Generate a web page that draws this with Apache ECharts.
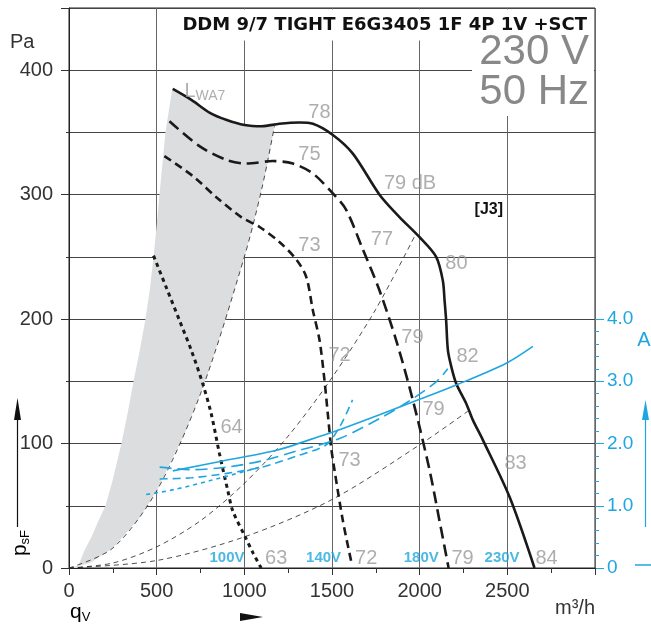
<!DOCTYPE html>
<html>
<head>
<meta charset="utf-8">
<script src="https://cdn.jsdelivr.net/npm/echarts@6/dist/echarts.min.js"></script>
<style>
html,body{margin:0;padding:0;background:#fff}
#main{width:651px;height:629px}
</style>
</head>
<body>
<div id="main"></div>
<script>
// static pressure p_sF (Pa) against air flow q_V (m3/h), one curve per voltage
var fan230 = [[592,385],[700,376],[801,366],[900,360],[1001,356],[1100,355],[1200,357],[1315,358],[1391,357],[1505,348],[1619,333],[1771,300],[1885,282],[1998,266],[2094,250],[2132,231],[2142,215],[2151,199],[2161,175],[2180,162],[2209,148],[2266,132],[2303,119],[2360,103],[2513,57],[2655,0]];
var fan180 = [[573,359],[744,339],[897,328],[1011,325],[1162,327],[1277,325],[1391,317],[1505,301],[1580,288],[1676,256],[1771,223],[1866,183],[1961,135],[2056,79],[2113,38],[2165,0]];
var fan140 = [[544,331],[706,315],[840,298],[982,282],[1087,274],[1200,262],[1296,248],[1353,234],[1391,207],[1429,183],[1457,151],[1476,124],[1495,97],[1514,79],[1562,38],[1610,5]];
var fan100 = [[482,251],[556,225],[630,199],[700,174],[763,148],[811,124],[858,92],[906,62],[934,46],[1005,25],[1050,12],[1096,0]];

// system curves (thin dashed)
var sys1 = [[0,0],[250,16],[500,62],[750,140],[1000,250],[1100,305],[1172,355]];
var sys2 = [[0,0],[250,4],[500,17],[750,38],[1000,68],[1250,106],[1500,153],[1750,208],[1980,269]];
var sys3 = [[0,0],[500,6],[1000,25],[1500,55],[2000,99],[2275,126]];

// shaded L_WA7 zone
var zoneLeft = [[48,0],[88,14],[128,25],[168,38],[208,50],[248,70],[299,100],[335,125],[368,150],[404,175],[436,200],[462,225],[482,250],[500,275],[516,300],[533,325],[550,350],[570,368],[590,386]];
var zoneTop = [[650,381],[700,376],[750,370],[801,366],[850,362],[900,360],[950,357],[1001,356],[1050,355],[1100,355],[1172,355]];
var zoneRight = [[1140,330],[1100,305],[1050,276],[1000,250],[900,203],[800,160],[750,140],[650,105],[500,62],[400,40],[250,16],[120,4],[0,0]];

// current (A) against air flow
var amp230 = [[592,1.56],[877,1.72],[1182,1.89],[1467,2.15],[1543,2.22],[1771,2.46],[2000,2.71],[2209,2.94],[2494,3.29],[2646,3.56]];
var amp180 = [[517,1.62],[700,1.58],[900,1.62],[1100,1.72],[1300,1.88],[1543,2.08],[1790,2.43],[1923,2.65],[2094,2.99],[2160,3.2]];
var amp140 = [[517,1.43],[700,1.45],[900,1.52],[1100,1.62],[1300,1.8],[1467,1.98],[1550,2.3],[1617,2.7]];
var amp100 = [[440,1.18],[600,1.26],[800,1.4],[1000,1.55],[1100,1.63]];

// sound power labels [q, p, text]
var dbLabels = [[1428,366,'78'],[1371,332,'75'],[1371,259,'73'],[927,113,'64'],[1182,8,'63'],[1945,309,'79 dB'],[1785,264,'77'],[2210,245,'80'],[1543,171,'72'],[1959,185,'79'],[2273,170,'82'],[2079,127,'79'],[1600,86,'73'],[2547,84,'83'],[1695,8,'72'],[2245,8,'79'],[2724,8,'84']];
var voltLabels = [[901,8,'100V'],[1452,8,'140V'],[2009,8,'180V'],[2470,8,'230V']];

var blue = '#1ea6e0';
var grayTxt = '#9a9a9a';
var font = 'Liberation Sans';

var zonePoly = zoneLeft.concat(zoneTop, zoneRight);

var myChart = echarts.init(document.getElementById('main'));

function fanLine(data, dash, width) {
    return {
        type: 'line', data: data, xAxisIndex: 0, yAxisIndex: 0,
        smooth: 0.3, symbol: 'none', silent: true, z: 5,
        lineStyle: {color: '#1a1a1a', width: width || 2.6, type: dash}
    };
}
function sysLine(data) {
    return {
        type: 'line', data: data, xAxisIndex: 0, yAxisIndex: 0,
        smooth: 0.3, symbol: 'none', silent: true, z: 4,
        lineStyle: {color: '#222', width: 0.8, type: [5, 4]}
    };
}
function ampLine(data, dash) {
    return {
        type: 'line', data: data, xAxisIndex: 1, yAxisIndex: 1,
        smooth: 0.3, symbol: 'none', silent: true, z: 6,
        lineStyle: {color: blue, width: 1.6, type: dash}
    };
}

var option = {
    animation: false,
    grid: [
        {left: 69, right: 56, top: 8, bottom: 61, show: true, borderColor: '#222', borderWidth: 1},
        {left: 69, right: 56, top: 319, bottom: 61}
    ],
    xAxis: [
        {
            type: 'value', gridIndex: 0, min: 0, max: 3000, interval: 500,
            axisLine: {show: true, lineStyle: {color: '#222'}},
            axisTick: {show: true, length: 7, lineStyle: {color: '#333'}},
            minorTick: {show: true, splitNumber: 2, length: 5, lineStyle: {color: '#333'}},
            axisLabel: {color: '#333', fontSize: 20, fontFamily: font, margin: 13, showMaxLabel: false,
                formatter: function (v) { return String(v); }},
            splitLine: {show: true, lineStyle: {color: '#666', width: 1}}
        },
        {type: 'value', gridIndex: 1, min: 0, max: 3000, show: false}
    ],
    yAxis: [
        {
            type: 'value', gridIndex: 0, min: 0, max: 450, interval: 100,
            axisLine: {show: true, lineStyle: {color: '#222'}},
            axisTick: {show: true, length: 8, lineStyle: {color: '#333'}},
            minorTick: {show: true, splitNumber: 2, length: 3, lineStyle: {color: '#333'}},
            axisLabel: {color: '#333', fontSize: 20, fontFamily: font, margin: 16, showMaxLabel: false},
            splitLine: {show: true, lineStyle: {color: '#444', width: 1}},
            minorSplitLine: {show: true, lineStyle: {color: '#444', width: 1}}
        },
        {
            type: 'value', gridIndex: 1, min: 0, max: 4, interval: 1, position: 'right',
            axisLine: {show: false, onZero: false},
            axisTick: {show: true, length: 9, lineStyle: {color: blue}},
            minorTick: {show: true, splitNumber: 5, length: 4, lineStyle: {color: blue}},
            axisLabel: {
                color: blue, fontSize: 19, fontFamily: font, margin: 12,
                formatter: function (v) { return v === 0 ? '0' : v.toFixed(1); }
            },
            splitLine: {show: false}
        }
    ],
    graphic: [
        {type: 'rect', z: 50, shape: {x: 176, y: 9.5, width: 418, height: 31}, style: {fill: '#fff'}},
        {type: 'rect', z: 50, shape: {x: 472, y: 40, width: 122, height: 76}, style: {fill: '#fff'}},
        {type: 'text', z: 60, x: 587, y: 25, style: {text: 'DDM 9/7 TIGHT E6G3405 1F 4P 1V +SCT', font: 'bold 18px "DejaVu Sans"', fill: '#111', align: 'right', verticalAlign: 'middle'}},
        {type: 'text', z: 60, x: 589, y: 52, style: {text: '230 V', font: '42px ' + font, fill: '#888', align: 'right', verticalAlign: 'middle'}},
        {type: 'text', z: 60, x: 589, y: 92, style: {text: '50 Hz', font: '42px ' + font, fill: '#888', align: 'right', verticalAlign: 'middle'}},
        {type: 'text', z: 60, x: 503, y: 210, style: {text: '[J3]', font: 'bold 16px ' + font, fill: '#111', align: 'right', verticalAlign: 'middle'}},
        {type: 'text', z: 60, x: 10, y: 42, style: {text: 'Pa', font: '20px ' + font, fill: '#333', verticalAlign: 'middle'}},
        {type: 'text', z: 60, x: 70, y: 612, style: {text: '{a|q}{b|V}', verticalAlign: 'middle', rich: {a: {fontSize: 21, fontFamily: font, color: '#333'}, b: {fontSize: 13, fontFamily: font, color: '#333', padding: [10, 0, 0, 0]}}}},
        {type: 'polygon', z: 60, shape: {points: [[240, 613], [263, 617], [240, 621]]}, style: {fill: '#111'}},
        {type: 'text', z: 60, x: 595, y: 608, style: {text: 'm³/h', font: '20px ' + font, fill: '#333', align: 'right', verticalAlign: 'middle'}},
        {type: 'text', z: 60, x: 20, y: 543, rotation: Math.PI / 2, style: {text: '{a|p}{b|sF}', align: 'center', verticalAlign: 'middle', rich: {a: {fontSize: 21, fontFamily: font, color: '#333'}, b: {fontSize: 13, fontFamily: font, color: '#333', padding: [10, 0, 0, 0]}}}},
        {type: 'line', z: 60, shape: {x1: 17.5, y1: 527, x2: 17.5, y2: 415}, style: {stroke: '#111', lineWidth: 1.2}},
        {type: 'polygon', z: 60, shape: {points: [[17.5, 398], [21, 420], [14, 420]]}, style: {fill: '#111'}},
        {type: 'text', z: 60, x: 644, y: 340, style: {text: 'A', font: '20px ' + font, fill: blue, align: 'center', verticalAlign: 'middle'}},
        {type: 'line', z: 60, shape: {x1: 645.5, y1: 527, x2: 645.5, y2: 415}, style: {stroke: blue, lineWidth: 1.2}},
        {type: 'polygon', z: 60, shape: {points: [[645.5, 400], [649, 420], [642, 420]]}, style: {fill: blue}},
        {type: 'line', z: 60, shape: {x1: 635, y1: 565, x2: 651, y2: 565}, style: {stroke: blue, lineWidth: 1.5}}
    ],
    series: [
        {
            type: 'custom', xAxisIndex: 0, yAxisIndex: 0, data: zonePoly, silent: true, z: 1,
            encode: {x: 0, y: 1},
            renderItem: function (params, api) {
                if (params.dataIndex !== 0) return null;
                var pts = zonePoly.map(function (p) { return api.coord(p); });
                return {type: 'polygon', shape: {points: pts}, style: {fill: '#dcdddf'}};
            }
        },
        sysLine(sys1), sysLine(sys2), sysLine(sys3),
        fanLine(fan230, 'solid', 2.6),
        fanLine(fan180, [12, 6], 2.6),
        fanLine(fan140, [8, 5], 2.6),
        fanLine(fan100, [4, 4], 3),
        ampLine(amp230, 'solid'),
        ampLine(amp180, [12, 6]),
        ampLine(amp140, [8, 5]),
        ampLine(amp100, [4, 4]),
        {
            type: 'scatter', xAxisIndex: 0, yAxisIndex: 0, data: dbLabels, symbolSize: 0, silent: true, z: 7,
            label: {show: true, position: 'inside', formatter: function (p) { return p.data[2]; }, color: grayTxt, fontSize: 20, fontFamily: font}
        },
        {
            type: 'scatter', xAxisIndex: 0, yAxisIndex: 0, data: voltLabels, symbolSize: 0, silent: true, z: 7,
            label: {show: true, position: 'inside', formatter: function (p) { return p.data[2]; }, color: blue, fontSize: 15, fontWeight: 'bold', fontFamily: font}
        },
        {
            type: 'scatter', xAxisIndex: 0, yAxisIndex: 0, data: [[775, 383]], symbolSize: 0, silent: true, z: 7,
            label: {show: true, position: 'inside', formatter: '{a|L}{b|WA7}', rich: {a: {color: grayTxt, fontSize: 20, fontFamily: font}, b: {color: grayTxt, fontSize: 14, fontFamily: font, padding: [9, 0, 0, 0]}}}
        }
    ]
};
myChart.setOption(option);
</script>
</body>
</html>
